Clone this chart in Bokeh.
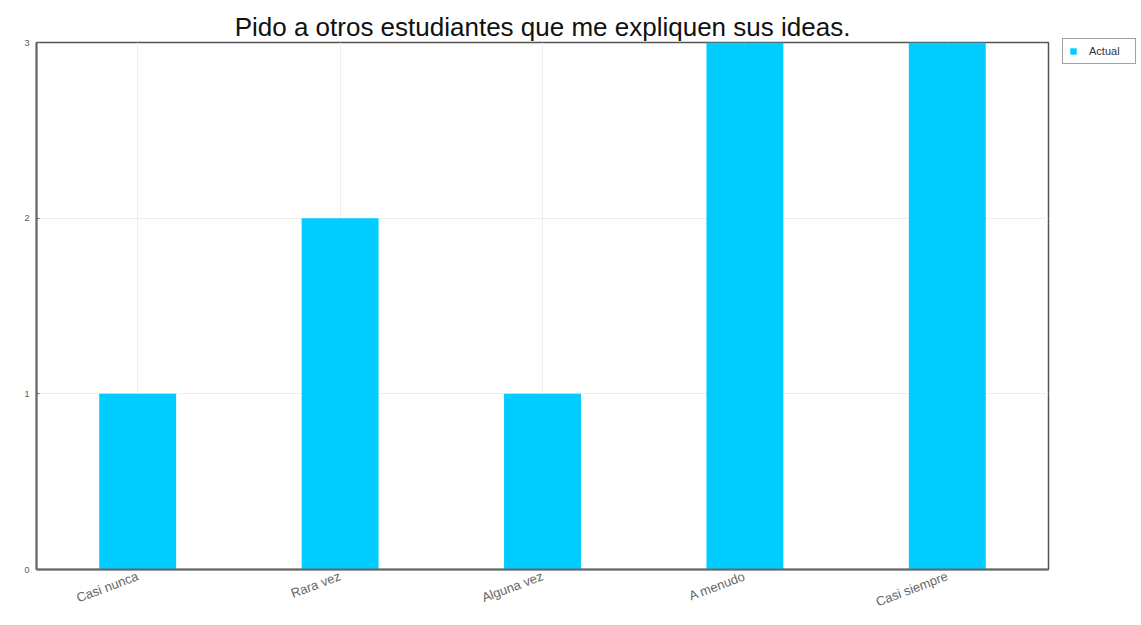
from bokeh.plotting import figure
from bokeh.models import ColumnDataSource, FactorRange, Range1d, FixedTicker, Legend, LegendItem
from bokeh.embed import file_html
from bokeh.resources import INLINE

categories = ["Casi nunca", "Rara vez", "Alguna vez", "A menudo", "Casi siempre"]
actual = [1, 2, 1, 3, 3]
series_name = "Actual"
title_text = "Pido a otros estudiantes que me expliquen sus ideas."
y_ticks = [0, 1, 2, 3]

src = ColumnDataSource(dict(cat=categories, val=actual))

p = figure(
    x_range=FactorRange(*categories),
    y_range=Range1d(0, 3),
    frame_width=1012, frame_height=527,
    output_backend="svg", toolbar_location=None,
    min_border_left=36, min_border_top=42, min_border_bottom=40, min_border_right=85,
)
p.title.text = title_text
p.title.align = "center"
p.title.text_font = "Liberation Sans"
p.title.text_font_style = "normal"
p.title.text_font_size = "26px"
p.title.text_color = "#111111"
p.title.offset = 0
p.title.standoff = 2

r = p.vbar(x="cat", top="val", width=0.38, source=src, color="#00CCFF", line_color=None)

p.outline_line_color = "#555555"
p.outline_line_width = 1.5

p.yaxis.ticker = FixedTicker(ticks=y_ticks)
for ax in (p.xaxis[0], p.yaxis[0]):
    ax.axis_line_color = "#666666"
    ax.axis_line_width = 2
    ax.major_tick_out = 0
    ax.minor_tick_out = 0
    ax.minor_tick_in = 0
    ax.major_label_text_font = "Liberation Sans"
    ax.major_label_text_color = "#555555"
p.yaxis.major_tick_in = 3
p.yaxis.major_tick_line_color = "#666666"
p.xaxis.major_tick_in = 0
p.yaxis.major_label_text_font_size = "9px"
p.yaxis.major_label_standoff = 7
p.xaxis.major_label_text_font_size = "13px"
p.xaxis.major_label_text_color = "#666666"
p.xaxis.major_label_orientation = 0.36
p.xaxis.major_label_standoff = 6

p.xgrid.grid_line_color = "#eeeeee"
p.ygrid.grid_line_color = "#eeeeee"

legend = Legend(items=[LegendItem(label=series_name, renderers=[r])], location=(14, 505))
legend.label_text_font = "Liberation Sans"
legend.label_text_font_size = "11px"
legend.label_text_color = "#333333"
legend.glyph_width = 8
legend.glyph_height = 8
legend.padding = 6
legend.margin = 0
legend.spacing = 0
legend.label_standoff = 12
legend.label_height = 10
legend.label_width = 40
legend.border_line_color = "#444444"
legend.border_line_width = 1
p.add_layout(legend, "right")

open("out.html", "w").write(file_html(p, INLINE))
